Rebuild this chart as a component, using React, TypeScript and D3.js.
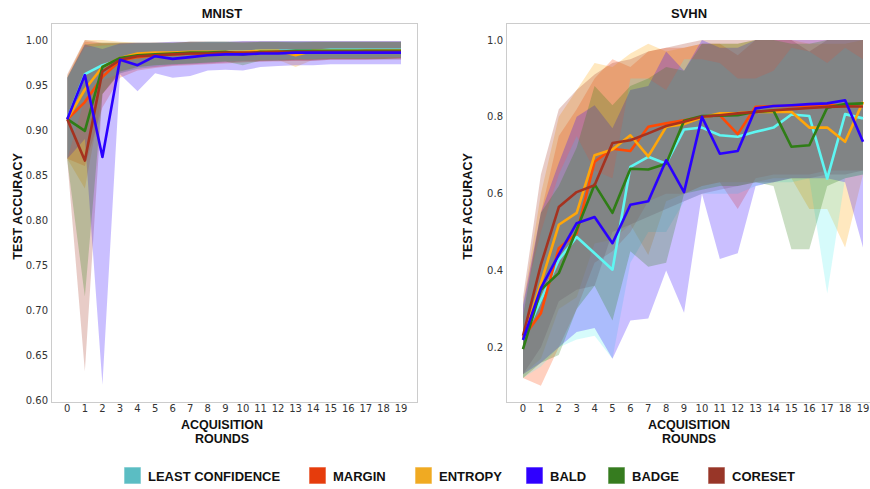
import React from 'react';
import * as d3 from 'd3';

const rounds = [0, 1, 2, 3, 4, 5, 6, 7, 8, 9, 10, 11, 12, 13, 14, 15, 16, 17, 18, 19];
const methods = ['LEAST CONFIDENCE', 'MARGIN', 'ENTROPY', 'BALD', 'BADGE', 'CORESET'];
const lineColors = ['#5ef6f2', '#ff4a05', '#ffa60a', '#2a00ff', '#2f7d16', '#a5321f'];
const fillColors = ['#5cf0f0', '#ff4500', '#ffa500', '#2a00ff', '#2b7d10', '#a4321e'];
const legendColors = ['#5bbdc3', '#e63c0c', '#f0aa22', '#2f00ff', '#367c1f', '#983628'];

const mnistTicks = [0.6, 0.65, 0.7, 0.75, 0.8, 0.85, 0.9, 0.95, 1.0];
const svhnTicks = [0.2, 0.4, 0.6, 0.8, 1.0];

// ---------------- MNIST ----------------
const mnistLcMean = [0.912, 0.962, 0.972, 0.978, 0.982, 0.984, 0.985, 0.986, 0.986, 0.987, 0.987, 0.988, 0.988, 0.988, 0.988, 0.989, 0.989, 0.989, 0.989, 0.989];
const mnistLcLo = [0.868, 0.935, 0.955, 0.963, 0.968, 0.971, 0.973, 0.974, 0.975, 0.976, 0.977, 0.978, 0.978, 0.979, 0.979, 0.98, 0.98, 0.98, 0.981, 0.981];
const mnistLcHi = [0.958, 0.992, 0.994, 0.995, 0.996, 0.997, 0.997, 0.997, 0.998, 0.998, 0.998, 0.998, 0.998, 0.998, 0.998, 0.998, 0.998, 0.998, 0.998, 0.998];

const mnistMarginMean = [0.912, 0.931, 0.959, 0.977, 0.981, 0.983, 0.984, 0.985, 0.985, 0.986, 0.986, 0.986, 0.987, 0.987, 0.987, 0.987, 0.987, 0.988, 0.988, 0.988];
const mnistMarginLo = [0.868, 0.86, 0.925, 0.958, 0.966, 0.969, 0.971, 0.972, 0.973, 0.974, 0.975, 0.976, 0.976, 0.977, 0.977, 0.978, 0.978, 0.978, 0.979, 0.979];
const mnistMarginHi = [0.958, 0.998, 0.996, 0.996, 0.996, 0.997, 0.997, 0.997, 0.997, 0.997, 0.998, 0.998, 0.998, 0.998, 0.998, 0.998, 0.998, 0.998, 0.998, 0.998];

const mnistEntropyMean = [0.912, 0.945, 0.97, 0.98, 0.985, 0.986, 0.986, 0.987, 0.987, 0.987, 0.987, 0.988, 0.988, 0.983, 0.988, 0.988, 0.988, 0.988, 0.988, 0.988];
const mnistEntropyLo = [0.868, 0.835, 0.94, 0.963, 0.97, 0.972, 0.973, 0.974, 0.975, 0.976, 0.977, 0.977, 0.978, 0.97, 0.978, 0.979, 0.979, 0.979, 0.979, 0.98];
const mnistEntropyHi = [0.96, 1.0, 1.0, 0.998, 0.997, 0.997, 0.997, 0.998, 0.998, 0.998, 0.998, 0.998, 0.998, 0.996, 0.998, 0.998, 0.998, 0.998, 0.998, 0.998];

const mnistBaldMean = [0.912, 0.961, 0.87, 0.978, 0.972, 0.982, 0.979, 0.981, 0.983, 0.984, 0.984, 0.985, 0.985, 0.986, 0.986, 0.986, 0.986, 0.986, 0.986, 0.986];
const mnistBaldLo = [0.868, 0.89, 0.617, 0.962, 0.943, 0.963, 0.958, 0.96, 0.966, 0.967, 0.966, 0.97, 0.971, 0.972, 0.972, 0.973, 0.973, 0.973, 0.973, 0.973];
const mnistBaldHi = [0.958, 0.995, 0.99, 0.996, 0.997, 0.997, 0.998, 0.998, 0.998, 0.998, 0.999, 0.999, 0.999, 0.999, 0.999, 0.999, 0.999, 0.999, 0.999, 0.999];

const mnistBadgeMean = [0.912, 0.899, 0.97, 0.98, 0.983, 0.984, 0.985, 0.986, 0.986, 0.987, 0.984, 0.987, 0.987, 0.988, 0.988, 0.988, 0.988, 0.988, 0.988, 0.988];
const mnistBadgeLo = [0.866, 0.715, 0.94, 0.965, 0.97, 0.972, 0.973, 0.974, 0.975, 0.976, 0.972, 0.977, 0.977, 0.978, 0.978, 0.979, 0.979, 0.979, 0.979, 0.98];
const mnistBadgeHi = [0.958, 0.995, 0.997, 0.997, 0.997, 0.997, 0.997, 0.998, 0.998, 0.998, 0.997, 0.998, 0.998, 0.998, 0.998, 0.998, 0.998, 0.998, 0.998, 0.998];

const mnistCoresetMean = [0.912, 0.866, 0.965, 0.978, 0.982, 0.983, 0.984, 0.985, 0.985, 0.986, 0.986, 0.986, 0.987, 0.987, 0.987, 0.987, 0.987, 0.987, 0.987, 0.987];
const mnistCoresetLo = [0.866, 0.632, 0.94, 0.963, 0.968, 0.97, 0.972, 0.973, 0.974, 0.975, 0.976, 0.976, 0.977, 0.977, 0.977, 0.978, 0.978, 0.978, 0.978, 0.978];
const mnistCoresetHi = [0.962, 1.0, 0.997, 0.997, 0.997, 0.997, 0.997, 0.998, 0.998, 0.998, 0.998, 0.998, 0.998, 0.998, 0.998, 0.998, 0.998, 0.998, 0.998, 0.998];

// ---------------- SVHN ----------------
const svhnLcMean = [0.22, 0.323, 0.428, 0.487, 0.445, 0.402, 0.67, 0.696, 0.678, 0.767, 0.772, 0.752, 0.748, 0.761, 0.772, 0.806, 0.802, 0.639, 0.807, 0.796];
const svhnLcLo = [0.12, 0.15, 0.2, 0.22, 0.23, 0.17, 0.42, 0.5, 0.5, 0.58, 0.6, 0.6, 0.6, 0.62, 0.63, 0.63, 0.64, 0.34, 0.64, 0.65];
const svhnLcHi = [0.31, 0.5, 0.65, 0.75, 0.66, 0.64, 0.9, 0.9, 0.87, 0.95, 0.95, 0.94, 0.9, 0.9, 0.92, 0.98, 0.97, 0.94, 0.98, 0.95];

const svhnMarginMean = [0.225, 0.289, 0.458, 0.497, 0.683, 0.717, 0.711, 0.774, 0.783, 0.791, 0.8, 0.804, 0.755, 0.826, 0.828, 0.828, 0.829, 0.83, 0.83, 0.835];
const svhnMarginLo = [0.12, 0.1, 0.2, 0.3, 0.42, 0.45, 0.5, 0.58, 0.6, 0.6, 0.62, 0.63, 0.56, 0.64, 0.65, 0.65, 0.65, 0.66, 0.66, 0.66];
const svhnMarginHi = [0.3, 0.55, 0.75, 0.82, 0.9, 0.95, 0.93, 0.97, 0.98, 0.98, 0.99, 0.99, 0.96, 1.0, 1.0, 1.0, 1.0, 1.0, 1.0, 1.0];

const svhnEntropyMean = [0.22, 0.367, 0.519, 0.55, 0.7, 0.715, 0.752, 0.697, 0.774, 0.781, 0.798, 0.809, 0.81, 0.813, 0.813, 0.813, 0.772, 0.772, 0.735, 0.839];
const svhnEntropyLo = [0.13, 0.17, 0.3, 0.33, 0.47, 0.48, 0.52, 0.44, 0.58, 0.6, 0.62, 0.63, 0.63, 0.63, 0.64, 0.64, 0.56, 0.56, 0.46, 0.65];
const svhnEntropyHi = [0.31, 0.6, 0.8, 0.87, 0.94, 0.93, 0.965, 0.99, 0.97, 0.98, 0.99, 0.99, 0.99, 1.0, 1.0, 1.0, 0.99, 0.99, 0.99, 1.0];

const svhnBaldMean = [0.219, 0.354, 0.441, 0.523, 0.539, 0.471, 0.571, 0.58, 0.687, 0.604, 0.8, 0.704, 0.711, 0.822, 0.828, 0.83, 0.833, 0.835, 0.843, 0.735];
const svhnBaldLo = [0.13, 0.16, 0.2, 0.24, 0.25, 0.17, 0.27, 0.275, 0.4, 0.29, 0.6, 0.43, 0.445, 0.62, 0.63, 0.64, 0.64, 0.64, 0.63, 0.46];
const svhnBaldHi = [0.31, 0.55, 0.68, 0.8, 0.83, 0.77, 0.87, 0.88, 0.97, 0.92, 1.0, 0.98, 0.98, 1.0, 1.0, 1.0, 1.0, 1.0, 1.0, 1.0];

const svhnBadgeMean = [0.195, 0.35, 0.393, 0.506, 0.624, 0.55, 0.665, 0.663, 0.678, 0.79, 0.802, 0.803, 0.804, 0.813, 0.816, 0.722, 0.726, 0.824, 0.833, 0.835];
const svhnBadgeLo = [0.12, 0.16, 0.18, 0.3, 0.36, 0.27, 0.45, 0.41, 0.42, 0.6, 0.61, 0.62, 0.62, 0.63, 0.62, 0.455, 0.455, 0.62, 0.64, 0.65];
const svhnBadgeHi = [0.28, 0.55, 0.62, 0.72, 0.88, 0.83, 0.88, 0.9, 0.93, 0.92, 0.99, 0.99, 0.99, 1.0, 1.0, 0.99, 0.99, 1.0, 1.0, 1.0];

const svhnCoresetMean = [0.23, 0.415, 0.565, 0.604, 0.622, 0.732, 0.739, 0.757, 0.776, 0.787, 0.8, 0.804, 0.809, 0.813, 0.817, 0.82, 0.823, 0.826, 0.827, 0.827];
const svhnCoresetLo = [0.13, 0.2, 0.32, 0.35, 0.36, 0.5, 0.52, 0.54, 0.56, 0.58, 0.6, 0.61, 0.62, 0.63, 0.63, 0.64, 0.64, 0.65, 0.65, 0.66];
const svhnCoresetHi = [0.33, 0.65, 0.82, 0.87, 0.91, 0.94, 0.95, 0.97, 0.98, 0.99, 1.0, 1.0, 1.0, 1.0, 1.0, 1.0, 0.97, 1.0, 1.0, 1.0];

const mnistMeans = [mnistLcMean, mnistMarginMean, mnistEntropyMean, mnistBaldMean, mnistBadgeMean, mnistCoresetMean];
const mnistLos = [mnistLcLo, mnistMarginLo, mnistEntropyLo, mnistBaldLo, mnistBadgeLo, mnistCoresetLo];
const mnistHis = [mnistLcHi, mnistMarginHi, mnistEntropyHi, mnistBaldHi, mnistBadgeHi, mnistCoresetHi];
const svhnMeans = [svhnLcMean, svhnMarginMean, svhnEntropyMean, svhnBaldMean, svhnBadgeMean, svhnCoresetMean];
const svhnLos = [svhnLcLo, svhnMarginLo, svhnEntropyLo, svhnBaldLo, svhnBadgeLo, svhnCoresetLo];
const svhnHis = [svhnLcHi, svhnMarginHi, svhnEntropyHi, svhnBaldHi, svhnBadgeHi, svhnCoresetHi];

// drawing order
const fillOrder = [1, 2, 5, 0, 3, 4];
const lineOrder = [0, 1, 2, 4, 5, 3];

const TICK_FONT = 'DejaVu Sans, sans-serif';
const BOLD_FONT = 'Liberation Sans, Arial, sans-serif';

type PanelProps = {
  id: string;
  title: string;
  frame: { x0: number; x1: number; y0: number; y1: number };
  xPix: [number, number];
  yDomain: [number, number];
  yPix: [number, number];
  yTicks: number[];
  yFmt: string;
  labelCx: number;
  yLabelX: number;
  means: number[][];
  los: number[][];
  his: number[][];
};

function Panel(p: PanelProps) {
  const x = d3.scaleLinear().domain([0, 19]).range(p.xPix);
  const y = d3.scaleLinear().domain(p.yDomain).range(p.yPix);
  const fmt = d3.format(p.yFmt);
  const area = d3
    .area<number>()
    .x((_, i) => x(rounds[i]))
    .y0((d) => y(d))
    .curve(d3.curveLinear);
  const line = d3
    .line<number>()
    .x((_, i) => x(rounds[i]))
    .y((d) => y(d));
  const { x0, x1, y0, y1 } = p.frame;
  return (
    <g>
      <defs>
        <clipPath id={`clip-${p.id}`}>
          <rect x={x0} y={y0} width={x1 - x0} height={y1 - y0} />
        </clipPath>
      </defs>
      <g clipPath={`url(#clip-${p.id})`}>
        {fillOrder.map((k) => {
          const lo = p.los[k];
          const hi = p.his[k];
          const a = d3
            .area<number>()
            .x((_, i) => x(rounds[i]))
            .y0((_, i) => y(lo[i]))
            .y1((_, i) => y(hi[i]));
          return <path key={`f${k}`} d={a(lo) || ''} fill={fillColors[k]} fillOpacity={0.25} stroke="none" />;
        })}
        {lineOrder.map((k) => (
          <path
            key={`l${k}`}
            d={line(p.means[k]) || ''}
            fill="none"
            stroke={lineColors[k]}
            strokeWidth={2.6}
            strokeLinejoin="round"
            strokeLinecap="butt"
          />
        ))}
      </g>
      <rect x={x0 + 0.5} y={y0 + 0.5} width={x1 - x0} height={y1 - y0} fill="none" stroke="#cccccc" strokeWidth={1} />
      {p.yTicks.map((t) => (
        <text
          key={`yt${t}`}
          x={x0 - 3}
          y={y(t)}
          dy="0.36em"
          textAnchor="end"
          fontFamily={TICK_FONT}
          fontSize={10}
          fill="#333"
        >
          {fmt(t)}
        </text>
      ))}
      {rounds.map((r) => (
        <text
          key={`xt${r}`}
          x={x(r)}
          y={y1 + 10}
          textAnchor="middle"
          fontFamily={TICK_FONT}
          fontSize={10}
          fill="#333"
        >
          {r}
        </text>
      ))}
      <text x={p.labelCx} y={18} textAnchor="middle" fontFamily={BOLD_FONT} fontWeight="bold" fontSize={13} fill="#111">
        {p.title}
      </text>
      <text x={p.labelCx} y={429} textAnchor="middle" fontFamily={BOLD_FONT} fontWeight="bold" fontSize={12.5} fill="#111">
        ACQUISITION
      </text>
      <text x={p.labelCx} y={443} textAnchor="middle" fontFamily={BOLD_FONT} fontWeight="bold" fontSize={12.5} fill="#111">
        ROUNDS
      </text>
      <text
        transform={`translate(${p.yLabelX},${(y0 + y1) / 2 - 6}) rotate(-90)`}
        textAnchor="middle"
        dy="0.36em"
        fontFamily={BOLD_FONT}
        fontWeight="bold"
        fontSize={12.5}
        fill="#111"
      >
        TEST ACCURACY
      </text>
    </g>
  );
}

const legendSwatchX = [124, 309, 415, 526, 608, 708];

export default function App() {
  return (
    <div style={{ position: 'absolute', left: 0, top: 0 }}>
      <svg width={870} height={489} style={{ display: 'block', background: '#fff' }}>
        <Panel
          id="mnist"
          title="MNIST"
          frame={{ x0: 51, x1: 417, y0: 23, y1: 402 }}
          xPix={[67.3, 401]}
          yDomain={[0.6, 1.0]}
          yPix={[400, 40]}
          yTicks={mnistTicks}
          yFmt=".2f"
          labelCx={222}
          yLabelX={17}
          means={mnistMeans}
          los={mnistLos}
          his={mnistHis}
        />
        <Panel
          id="svhn"
          title="SVHN"
          frame={{ x0: 506, x1: 880, y0: 23, y1: 402 }}
          xPix={[523, 863]}
          yDomain={[0.2, 1.0]}
          yPix={[347.3, 40]}
          yTicks={svhnTicks}
          yFmt=".1f"
          labelCx={689}
          yLabelX={467}
          means={svhnMeans}
          los={svhnLos}
          his={svhnHis}
        />
        {methods.map((m, i) => (
          <g key={m}>
            <rect
              x={legendSwatchX[i]}
              y={467}
              width={17}
              height={17}
              fill={legendColors[i]}
              stroke="#ffffff"
              strokeOpacity={0.6}
              strokeWidth={1}
            />
            <text
              x={legendSwatchX[i] + 24}
              y={480.5}
              fontFamily={BOLD_FONT}
              fontWeight="bold"
              fontSize={13}
              fill="#111"
            >
              {m}
            </text>
          </g>
        ))}
      </svg>
    </div>
  );
}
